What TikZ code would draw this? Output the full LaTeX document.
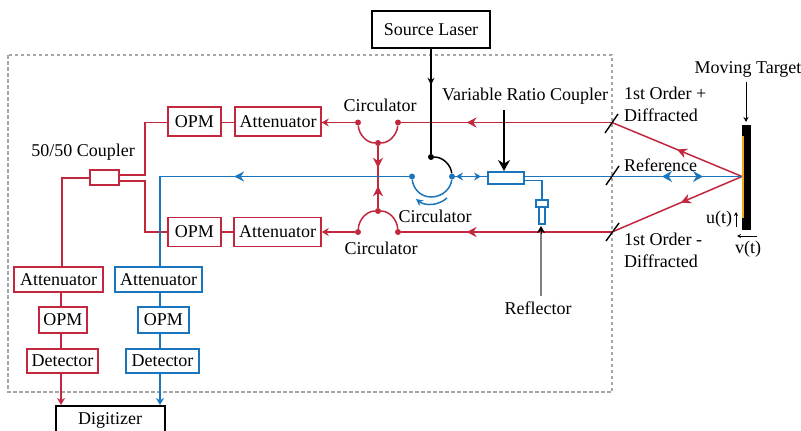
\documentclass[tikz,border=0pt]{standalone}
\usepackage{fontspec}
\setmainfont{Liberation Serif}
\usetikzlibrary{arrows.meta,decorations.markings}
\definecolor{myred}{HTML}{C1283E}
\definecolor{myblue}{HTML}{1B75BC}
\definecolor{mygray}{HTML}{A6A6A6}
\definecolor{myorange}{HTML}{F5A81C}
\tikzset{
 box/.style={draw,line width=1.5pt,fill=white,inner sep=0pt,font=\fontsize{18}{20}\selectfont},
 redbox/.style={box,draw=myred},
 bluebox/.style={box,draw=myblue},
 blackbox/.style={box,draw=black,line width=1.7pt},
 lab/.style={inner sep=0pt,font=\fontsize{18}{20}\selectfont},
 redline/.style={draw=myred,line width=1.5pt},
 blueline/.style={draw=myblue,line width=1.5pt},
 dot/.style={circle,fill=#1,inner sep=0pt,minimum size=6pt},
 midtip/.style 2 args={postaction={decorate},decoration={markings,mark=at position #1 with {\arrow{Stealth[length=10pt,width=10pt,#2]}}}},
 slash/.style={line width=1.4pt,draw=black},
}
\newcommand{\bx}[7]{\node[#1,minimum width=#5-#3,minimum height=#6-#4] (#2) at ({(#3+#5)/2},{(#4+#6)/2}) {#7};}
\begin{document}
\begin{tikzpicture}[x=1pt,y=-1pt]
\useasboundingbox (0,0) rectangle (801,431);
% frame
\coordinate (fa) at (8,55); \coordinate (fb) at (612,392);
\draw[mygray,line width=1.2pt,dash pattern=on 3.5pt off 2.5pt] (fa) rectangle (fb);

% junction points
\node[dot=myred] (c1l) at (358,122.5) {};
\node[dot=myred] (c1r) at (398,122.5) {};
\node[dot=myred] (c1m) at (378,143) {};
\node[dot=myred] (c2l) at (358,232) {};
\node[dot=myred] (c2r) at (398,232) {};
\node[dot=myred] (c2m) at (378,211) {};
\node[dot=myblue] (c3l) at (412,176.5) {};
\node[dot=myblue] (c3r) at (452,176.5) {};
\node[dot=black] (c3t) at (431,157) {};
\coordinate (hit) at (742,176.5);
\coordinate (ap) at (612,122.5);
\coordinate (am) at (612,232);

% red paths
\draw[redline,midtip={0.69}{myred}] (ap) -- (c1r);
\draw[redline,midtip={0.69}{myred}] (am) -- (c2r);
\draw[redline] (c1l) .. controls (359,135) and (367,143) .. (c1m) .. controls (389,143) and (397,135) .. (c1r);
\draw[redline] (c2l) .. controls (359,219) and (367,211) .. (c2m) .. controls (389,211) and (397,219) .. (c2r);
\draw[redline,midtip={0.5}{myred}] (hit) -- (ap);
\draw[redline,midtip={0.47}{myred}] (hit) -- (am);
\coordinate (cm) at (378,177);
\draw[redline,midtip={0.7}{myred}] (c1m) -- (cm);
\draw[redline,midtip={0.7}{myred}] (c2m) -- (cm);

% blue main
\bx{bluebox}{vrc}{488}{172}{524}{184}{}
\bx{bluebox}{batt}{115}{267}{202}{292}{Attenuator}
\coordinate (bcorner) at (160,176.5);
\draw[blueline,midtip={0.515}{myblue}] (c3l) -- (bcorner) -- (160,267);
\draw[blueline] (c3l) .. controls (413,188) and (420,197) .. (431,197) .. controls (443,197) and (451,188) .. (c3r);
\draw[line width=1.5pt] (c3t) .. controls (443,157) and (451,165) .. (c3r);
\draw[blueline] (c3r) -- (vrc.west |- c3r);
\draw[blueline,-{Stealth[length=7pt,width=8pt]}] (468,176.5) -- (456,176.5);
\draw[blueline,-{Stealth[length=7pt,width=8pt]}] (468,176.5) -- (481,176.5);
\draw[blueline,-{Stealth[length=7pt,width=7pt]}] (447,198) .. controls (438,206) and (425,206) .. (416,199);
\draw[blueline] (hit) -- (524,176.5);
\draw[blueline,-{Stealth[length=10pt,width=11pt]}] (680,176.5) -- (662,176.5);
\draw[blueline,-{Stealth[length=10pt,width=11pt]}] (680,176.5) -- (703,176.5);

% reflector
\coordinate (rf) at (542,200);
\draw[blueline] (524,180.5) -- (542,180.5) -- (rf);
\bx{bluebox}{refa}{539}{207}{545}{224}{}
\bx{bluebox}{refb}{536}{200}{548}{207}{}

% source laser
\bx{blackbox}{src}{372}{11}{490}{48}{Source Laser}
\draw[line width=1.5pt,-{Stealth[length=7pt,width=7pt]}] (src.south -| c3t) -- +(0,36);
\draw[line width=1.5pt] (src.south -| c3t) -- (c3t);

% boxes upper
\bx{redbox}{opma}{168}{107}{221}{136}{OPM}
\bx{redbox}{atta}{235}{107}{321}{136}{Attenuator}
\bx{redbox}{opmb}{168}{217.5}{221}{246.5}{OPM}
\bx{redbox}{attb}{234}{217.5}{321}{246.5}{Attenuator}
\draw[redline] (opma.east |- c1l) -- (atta.west |- c1l);
\draw[redline] (opmb) -- (attb);
\draw[redline,{Stealth[length=7pt,width=8pt]}-] (atta.east |- c1l) -- (c1l);
\draw[redline,{Stealth[length=7pt,width=8pt]}-] (attb.east) -- (c2l);

% coupler + lower boxes
\bx{redbox}{cpl}{90}{170}{119}{185}{}
\bx{redbox}{ratt}{14}{267}{103}{292}{Attenuator}
\bx{redbox}{ropm}{39}{307}{87}{333}{OPM}
\bx{redbox}{rdet}{27}{349}{98}{373}{Detector}
\bx{bluebox}{bopm}{138}{307}{189}{333}{OPM}
\bx{bluebox}{bdet}{126}{349}{199}{373}{Detector}
\draw[redline] (90,178) -- (62,178) -- (62,267);
\draw[redline] (119,175) -- (145,175) -- (145,122.5) -- (opma.west |- c1l);
\draw[redline] (119,181) -- (145,181) -- (145,232) -- (opmb.west);
\draw[blueline] (160,225) -- (160,267);
\draw[redline] (61,292) -- (61,307);
\draw[redline] (61,333) -- (61,349);
\draw[blueline] (160,292) -- (160,307);
\draw[blueline] (160,333) -- (160,349);

% digitizer
\bx{blackbox}{dig}{56}{406}{165}{440}{}
\node[lab] (digt) at (110,420) {Digitizer};
\draw[redline,-{Stealth[length=7pt,width=8pt]}] (61,373) -- (61,405);
\draw[blueline,-{Stealth[length=7pt,width=8pt]}] (160,373) -- (160,405);

% target
\fill[black] (742,125) rectangle (751,230);
\fill[myorange] (741.5,136) rectangle (744,218);

% slashes
\draw[slash] (605,133) -- (618,114);
\draw[slash] (606,185) -- (619,166);
\draw[slash] (606,241) -- (619,223);

% labels
\node[lab] (lmt) at (748,69) {Moving Target};
\node[lab] (lvr) at (525,96) {Variable Ratio Coupler};
\node[lab] (lc1) at (380,105) {Circulator};
\node[lab] (lc3) at (435,216) {Circulator};
\node[lab] (lc2) at (381,248) {Circulator};
\node[lab] (l50) at (83,152) {50/50 Coupler};
\node[lab,anchor=west] (lp1) at (624,93) {1st Order +};
\node[lab,anchor=west] (lp2) at (624,115) {Diffracted};
\node[lab,anchor=west] (lr) at (624,165) {Reference};
\node[lab,anchor=west] (lm1) at (624,239) {1st Order -};
\node[lab,anchor=west] (lm2) at (624,261) {Diffracted};
\node[lab] (lrf) at (538,308) {Reflector};
\node[lab] (lu) at (719,219) {u(t)};
\node[lab] (lv) at (748,249) {v(t)};

% pointers
\coordinate (ptr) at (746,122);
\draw[line width=0.8pt,-{Stealth[length=5pt,width=5pt]}] (746,82) -- (ptr);
\draw[line width=1.5pt,-{Stealth[length=11pt,width=12pt]}] (504,110) -- (504,171);
\draw[gray,line width=1.5pt] (541,296) -- (541,232);
\draw[black,line width=0.6pt,-{Stealth[length=7pt,width=8pt]}] (541,234) -- (541,226);
\draw[line width=0.8pt,-{Stealth[length=4pt,width=4pt]}] (736,227) -- (736,212);
\draw[line width=0.8pt,-{Stealth[length=4pt,width=4pt]}] (757,236) -- (737,236);
\end{tikzpicture}
\end{document}
